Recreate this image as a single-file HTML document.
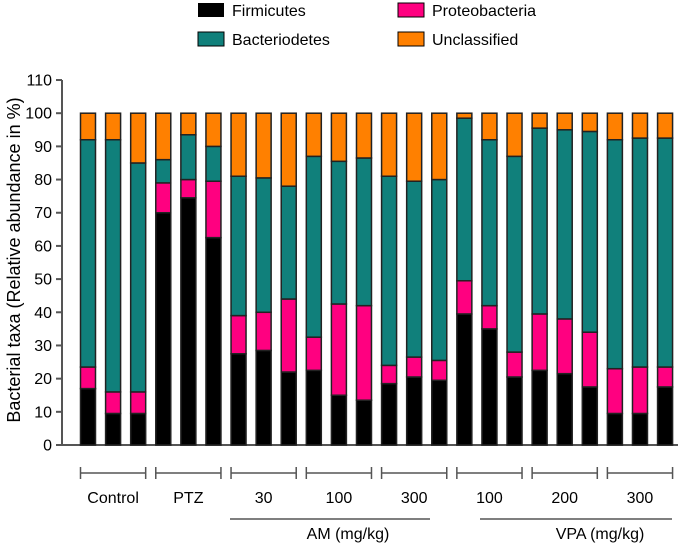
<!DOCTYPE html>
<html><head><meta charset="utf-8"><style>
body{margin:0;background:#fff}
svg{font-family:"Liberation Sans",Arial,sans-serif}
</style></head><body>
<svg id="chart" width="685" height="545" viewBox="0 0 685 545">
<g font-size="16">
 <rect x="198" y="3" width="26" height="14" fill="#000"/>
 <text x="232" y="16">Firmicutes</text>
 <rect x="398" y="3" width="26" height="14" fill="#ff0080" stroke="#000"/>
 <text x="432" y="16">Proteobacteria</text>
 <rect x="198" y="32" width="26" height="14" fill="#10807b" stroke="#000"/>
 <text x="232" y="45">Bacteriodetes</text>
 <rect x="398" y="32" width="26" height="14" fill="#ff8000" stroke="#000"/>
 <text x="432" y="45">Unclassified</text>
</g>
<text transform="translate(20,260) rotate(-90)" text-anchor="middle" font-size="18">Bacterial taxa (Relative abundance in %)</text>
<g id="axes"></g><g id="bars"></g><g id="groups"></g>
</svg>
<script>
const yTicks=[0,10,20,30,40,50,60,70,80,90,100,110];
const firmicutes=[17,9.5,9.5,70,74.5,62.5,27.5,28.5,22,22.5,15,13.5,18.5,20.5,19.5,39.5,35,20.5,22.5,21.5,17.5,9.5,9.5,17.5];
const proteobacteria=[6.5,6.5,6.5,9,5.5,17,11.5,11.5,22,10,27.5,28.5,5.5,6,6,10,7,7.5,17,16.5,16.5,13.5,14,6];
const bacteriodetes=[68.5,76,69,7,13.5,10.5,42,40.5,34,54.5,43,44.5,57,53,54.5,49,50,59,56,57,60.5,69,69,69];
const unclassified=[8,8,15,14,6.5,10,19,19.5,22,13,14.5,13.5,19,20.5,20,1.5,8,13,4.5,5,5.5,8,7.5,7.5];
const groupLabels=["Control","PTZ","30","100","300","100","200","300"];
const superLabels=["AM (mg/kg)","VPA (mg/kg)"];
const NS="http://www.w3.org/2000/svg";
const y0=445,ppu=3.318,x0=88,pitch=25.09,bw=15;
const Y=v=>y0-v*ppu, X=i=>x0+i*pitch;
function mk(t,a,p){const e=document.createElementNS(NS,t);for(const k in a)e.setAttribute(k,a[k]);p.appendChild(e);return e;}
const axes=document.getElementById('axes');
const ax=mk('line',{x1:62,y1:Y(110),x2:62,y2:y0,stroke:'#555','stroke-width':2},axes);

const bx=mk('line',{x1:61,y1:y0,x2:678,y2:y0,stroke:'#555','stroke-width':2},axes);

yTicks.forEach(t=>{
 const l=mk('line',{x1:56,y1:Y(t),x2:62,y2:Y(t),stroke:'#555','stroke-width':2},axes);
 
 const tx=mk('text',{x:52,y:Y(t)+5.5,'text-anchor':'end','font-size':16},axes);tx.textContent=t;
 
});
const bars=document.getElementById('bars');
const series=[[firmicutes,'#000','firmicutes'],[proteobacteria,'#ff0080','proteobacteria'],[bacteriodetes,'#10807b','bacteriodetes'],[unclassified,'#ff8000','unclassified']];
firmicutes.forEach((_,i)=>{
 let cum=0;
 series.forEach(([arr,col,nm])=>{
  const v=arr[i];
  const r=mk('rect',{x:X(i)-bw/2,y:Y(cum+v),width:bw,height:v*ppu,fill:col,stroke:'#222','stroke-width':1.5},bars);
  
  
  cum+=v;
 });
});
const groups=document.getElementById('groups');
groupLabels.forEach((g,k)=>{
 const a=X(k*3)-bw/2,b=X(k*3+2)+bw/2,yy=473;
 const l=mk('path',{d:`M${a},${yy-6}V${yy+6}M${a},${yy}H${b}M${b},${yy-6}V${yy+6}`,stroke:'#555','stroke-width':1.5,fill:'none'},groups);
 
 const t=mk('text',{x:(a+b)/2,y:503,'text-anchor':'middle','font-size':16},groups);t.textContent=g;
 
});
[[230,430],[480,672]].forEach(([a,b],k)=>{
 const l=mk('line',{x1:a,y1:519,x2:b,y2:519,stroke:'#555','stroke-width':1.5},groups);
 
 const t=mk('text',{x:(k==0?348:600),y:539,'text-anchor':'middle','font-size':16},groups);t.textContent=superLabels[k];
 
});
</script>
</body></html>
